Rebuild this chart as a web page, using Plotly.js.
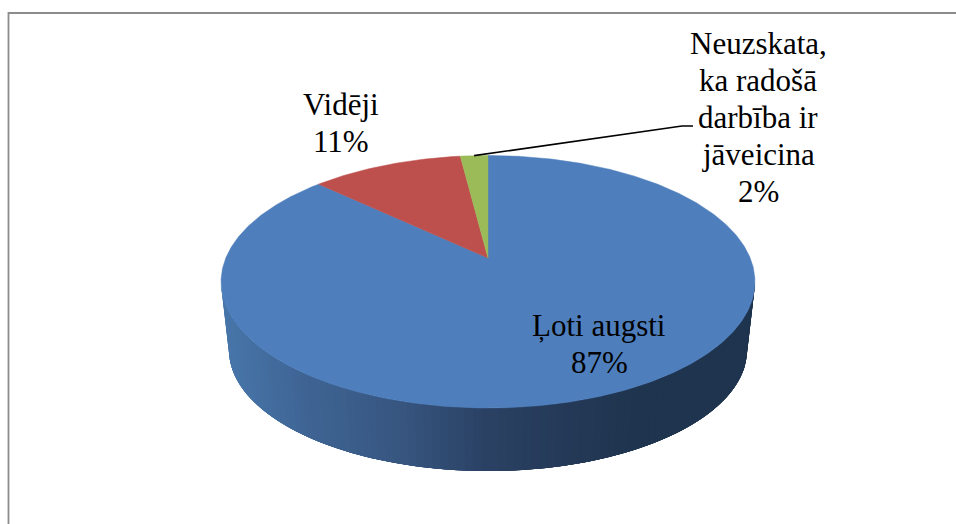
<!DOCTYPE html>
<html>
<head>
<meta charset="utf-8">
<script src="https://cdn.plot.ly/plotly-3.0.1.min.js"></script>
<style>html,body{margin:0;padding:0;background:#fff}#c{width:956px;height:524px}</style>
</head>
<body>
<div id="c"></div>
<script>
const categories = ["Ļoti augsti", "Vidēji", "Neuzskata, ka radošā darbība ir jāveicina"];
const values = [87, 11, 2];
const sliceColors = ["#4E7FBC", "#BD4F4C", "#9BBB59"];
const wallX = [221, 300, 400, 480, 560, 640, 755];
const wallRGB = [[72,118,170],[63,101,149],[55,86,128],[43,66,101],[37,58,88],[31,52,78],[31,52,78]];

const labelLines = [
  ["Ļoti augsti"],
  ["Vidēji"],
  ["Neuzskata,", "ka radošā", "darbība ir", "jāveicina"]
];
const labelCenterX = [599, 341, 758];
const labelFirstY = [325, 104, 43];
const lineStep = 37;
const leaderElbow = [[682, 126], [693, 126]];

// perspective projection of the round pie on to the page
const K = 0.188, CX = 488;
const TOP = {A: 262.2, B: 121.8, Y: 258};
const LOW = {A: 254.4, B: 116.7, Y: 327.3};
function proj(deg, s) {
  const r = deg * Math.PI / 180, u = Math.sin(r), v = Math.cos(r), d = 1 + K * v;
  return [CX + s.A * u / d, s.Y - s.B * v / d];
}
function wallColor(x) {
  let i = 0;
  while (i < wallX.length - 2 && x > wallX[i + 1]) i++;
  const t = Math.max(0, Math.min(1, (x - wallX[i]) / (wallX[i + 1] - wallX[i])));
  const c = wallRGB[i].map((a, j) => Math.round(a + (wallRGB[i + 1][j] - a) * t));
  return `rgb(${c[0]},${c[1]},${c[2]})`;
}
const total = values.reduce((a, b) => a + b, 0);
const traces = [];

// side wall of the first slice: strips painted left to right, each one
// reaching under the next so that no seam shows
const phi0 = Math.acos(-K) * 180 / Math.PI;
const phi1 = 360 - phi0;
const step = 1.5, reach = 6;
for (let a = phi1; a > phi0; a -= step) {
  const b = Math.max(a - step * reach, phi0);
  const upper = [], lower = [];
  for (let c = a; ; c -= step) {
    const q = Math.max(c, b);
    upper.push(proj(q, TOP));
    lower.unshift(proj(q, LOW));
    if (c <= b) break;
  }
  const pts = upper.concat(lower);
  const mid = proj(a - step / 2, TOP);
  const col = wallColor(mid[0]);
  traces.push({
    type: "scatter", mode: "lines", fill: "toself", fillcolor: col,
    line: {width: 0}, hoverinfo: "skip", showlegend: false,
    x: pts.map(p => p[0]), y: pts.map(p => p[1])
  });
}

// top face
let start = 0;
const apex = [CX, TOP.Y];
const mids = [];
values.forEach((val, i) => {
  const sweep = val / total * 360, xs = [apex[0]], ys = [apex[1]];
  for (let a = start; a < start + sweep; a += 0.5) {
    const p = proj(a, TOP); xs.push(p[0]); ys.push(p[1]);
  }
  const e = proj(start + sweep, TOP); xs.push(e[0]); ys.push(e[1]);
  xs.push(apex[0]); ys.push(apex[1]);
  traces.push({
    type: "scatter", mode: "lines", fill: "toself", fillcolor: sliceColors[i],
    line: {color: sliceColors[i], width: 0.5}, name: categories[i],
    hoverinfo: "name", showlegend: false, x: xs, y: ys
  });
  mids.push(start + sweep / 2);
  start += sweep;
});

// leader line for the smallest slice
const ls = proj(mids[2], TOP);
traces.push({
  type: "scatter", mode: "lines", line: {color: "#000", width: 1.6},
  hoverinfo: "skip", showlegend: false,
  x: [ls[0], leaderElbow[0][0], leaderElbow[1][0]],
  y: [ls[1], leaderElbow[0][1], leaderElbow[1][1]]
});

const annotations = [];
labelLines.forEach((lines, i) => {
  lines.concat([values[i] + "%"]).forEach((t, j) => {
    annotations.push({
      x: labelCenterX[i], y: labelFirstY[i] + j * lineStep, xref: "x", yref: "y",
      text: t, showarrow: false, xanchor: "center", yanchor: "middle",
      font: {family: "Liberation Serif, Times New Roman, serif", size: 31, color: "#000"}
    });
  });
});

const layout = {
  width: 956, height: 524,
  margin: {l: 0, r: 0, t: 0, b: 0},
  paper_bgcolor: "#fff", plot_bgcolor: "#fff",
  showlegend: false,
  xaxis: {range: [0, 956], visible: false, fixedrange: true},
  yaxis: {range: [524, 0], visible: false, fixedrange: true},
  annotations,
  shapes: [{
    type: "path", xref: "x", yref: "y",
    path: "M 8.5 524 L 8.5 13 L 956 13",
    line: {color: "#8c8c8c", width: 1.8}
  }]
};
Plotly.newPlot("c", traces, layout, {displayModeBar: false, staticPlot: true});
</script>
</body>
</html>
